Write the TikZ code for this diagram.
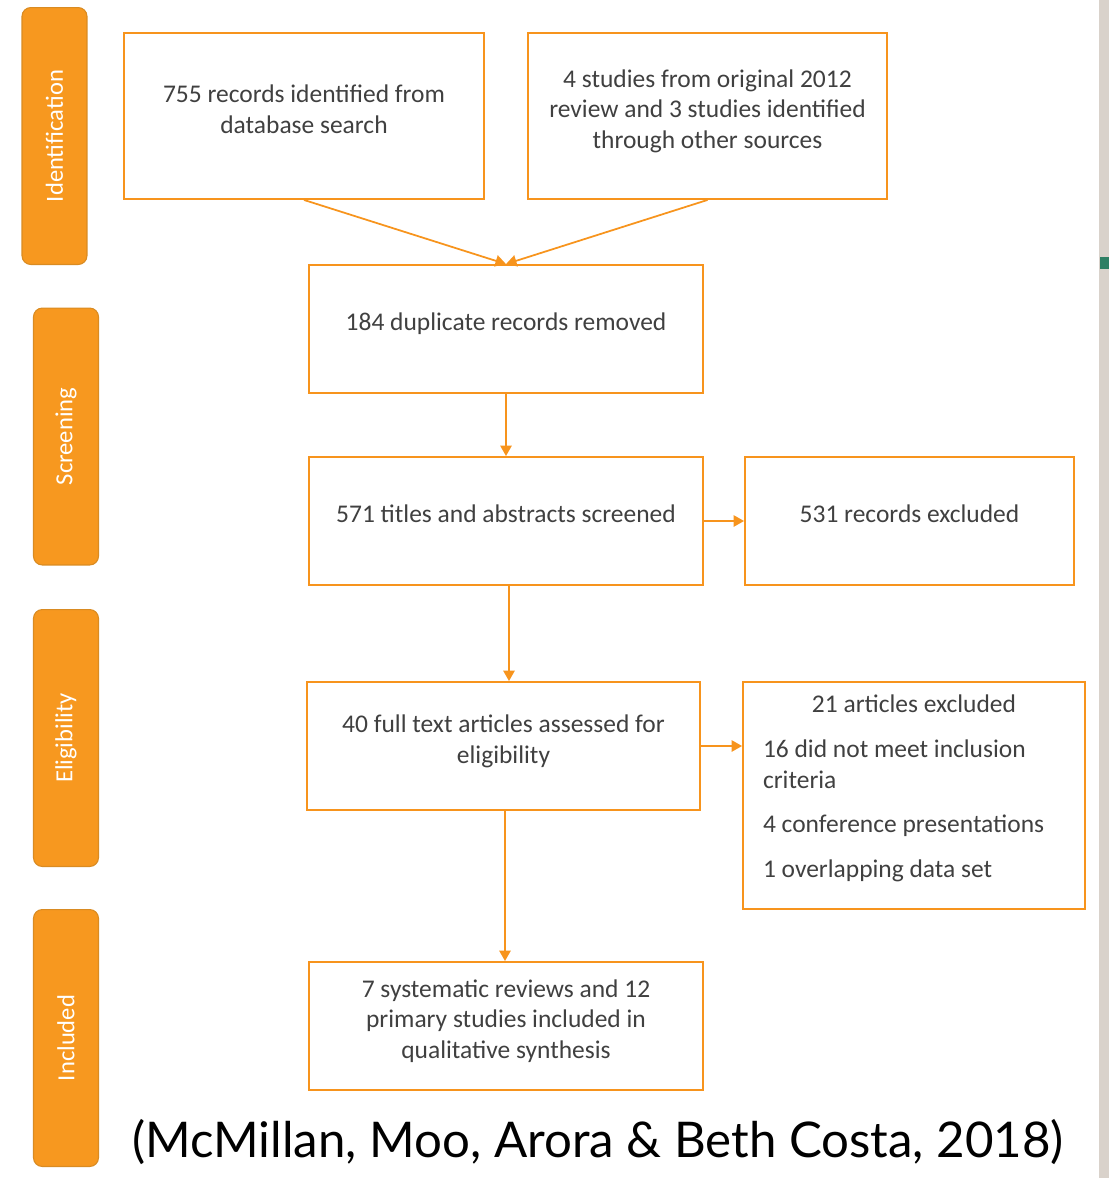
\documentclass[tikz,border=0pt]{standalone}
\usepackage{fontspec}
\usetikzlibrary{arrows.meta}
\setmainfont{Carlito}
\newfontfamily\citefont{Lato}
\definecolor{boxorange}{HTML}{F7941D}
\definecolor{taborange}{HTML}{F7981F}
\definecolor{tabedge}{HTML}{D98B22}
\definecolor{textgray}{HTML}{404040}
\definecolor{stripgray}{HTML}{D9D2CB}
\definecolor{stripgreen}{HTML}{2E7F64}

\begin{document}
\begin{tikzpicture}[x=0.02cm, y=-0.02cm,
    box/.style={draw=boxorange, line width=1.1pt, fill=white, text=textgray, align=center,
      font=\fontsize{14.5}{17.5}\selectfont, inner sep=2pt, text depth=8pt},
    tab/.style={draw=tabedge, fill=taborange, rounded corners=5pt, line width=0.6pt, text=white,
      rotate=90, minimum width=5.14cm, minimum height=1.3cm, font=\fontsize{14}{16}\selectfont},
    arr/.style={draw=boxorange, line width=1pt, -{Triangle[length=6pt,width=6.5pt]}}]
    \useasboundingbox (0,0) rectangle (1109,1178);
    \fill[stripgray]  (1099,0) rectangle (1109,1178);
    \fill[stripgreen] (1100,257) rectangle (1109,269);

    \node[tab] (ident)  at (54.5,136) {Identification};
    \node[tab] (screen) at (66,436.5) {Screening};
    \node[tab] (elig)   at (66,738)   {Eligibility};
    \node[tab] (incl)   at (66,1038)  {Included};

    \node[box, minimum width=7.2cm, minimum height=3.32cm] (dbsearch) at (304,116)
      {755 records identified from\\database search};
    \node[box, minimum width=7.18cm, minimum height=3.32cm] (othersrc) at (707.5,116)
      {4 studies from original 2012\\review and 3 studies identified\\through other sources};
    \node[box, minimum width=7.88cm, minimum height=2.56cm] (dupl) at (506,329)
      {184 duplicate records removed};
    \node[box, minimum width=7.88cm, minimum height=2.56cm] (screened) at (506,521)
      {571 titles and abstracts screened};
    \node[box, minimum width=6.58cm, minimum height=2.56cm] (excl) at (909.5,521)
      {531 records excluded};
    \node[box, minimum width=7.86cm, minimum height=2.56cm] (fulltext) at (503.5,746)
      {40 full text articles assessed for\\eligibility};
    \node[box, align=flush left, text depth=, text width=6.04cm, inner xsep=0.4cm, minimum height=4.54cm] (artexcl) at (914,795.5)
      {\spaceskip=0pt\xspaceskip=0pt\relax
       \makebox[\linewidth]{21 articles excluded}\\[8pt]
       16 did not meet inclusion\\criteria\\[8pt]
       4 conference presentations\\[8pt]
       1 overlapping data set\par\vspace{0.28cm}};
    \node[box, minimum width=7.88cm, minimum height=2.56cm] (synth) at (506,1026)
      {7 systematic reviews and 12\\primary studies included in\\qualitative synthesis};

    \draw[arr] (dbsearch.south) -- (dupl.north);
    \draw[arr] (othersrc.south) -- (dupl.north);
    \draw[arr] (dupl) -- (screened);
    \draw[arr] (screened) -- (excl);
    \draw[arr] ([xshift=0.06cm]screened.south) -- ([xshift=0.06cm]screened.south |- fulltext.north);
    \draw[arr] (fulltext.east) -- (fulltext.east -| artexcl.west);
    \draw[arr] ([xshift=0.03cm]fulltext.south) -- ([xshift=0.03cm]fulltext.south |- synth.north);

    \node (cite) at (598,1142) {\citefont\fontsize{28}{32}\selectfont (McMillan, Moo, Arora \& Beth Costa, 2018)};
  \end{tikzpicture}
\end{document}
